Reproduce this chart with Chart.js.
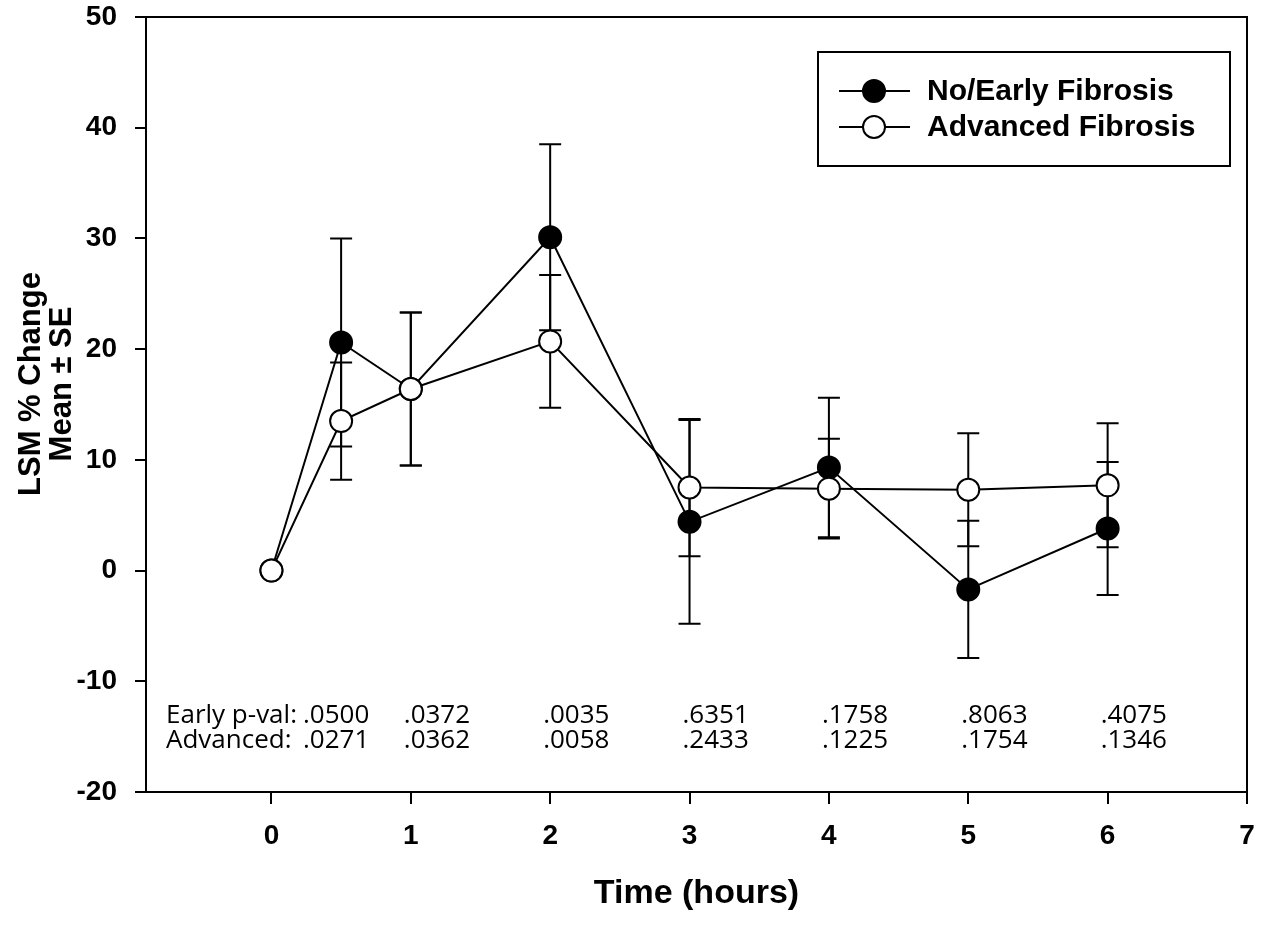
<!DOCTYPE html>
<html>
<head>
<meta charset="utf-8">
<script src="https://cdn.jsdelivr.net/npm/chart.js@4.4.0/dist/chart.umd.min.js"></script>
<style>
  html, body { margin: 0; padding: 0; background: #fff; }
  #wrap { width: 1265px; height: 926px; }
</style>
</head>
<body>
<div id="wrap"><canvas id="lsmChart" width="1265" height="926"></canvas></div>
<script>
// Time points (hours)
const times = [0, 0.5, 1, 2, 3, 4, 5, 6];

// No/Early fibrosis: mean and SE
const earlyMean = [0, 20.6, 16.4, 30.1, 4.4, 9.3, -1.7, 3.8];
const earlySE = [null, 9.4, 6.9, 8.4, 9.2, 6.3, 6.2, 6.0];

// Advanced fibrosis: mean and SE
const advMean = [0, 13.5, 16.4, 20.7, 7.5, 7.4, 7.3, 7.7];
const advSE = [null, 5.3, 6.9, 6.0, 6.2, 4.5, 5.1, 5.6];

// p-values printed inside the plot
const pTimes = [0.5, 1, 2, 3, 4, 5, 6];
const earlyP = ['.0500', '.0372', '.0035', '.6351', '.1758', '.8063', '.4075'];
const advP = ['.0271', '.0362', '.0058', '.2433', '.1225', '.1754', '.1346'];
const pLabels = ['Early p-val:', 'Advanced:'];

// Axis ticks
const xTicks = [0, 1, 2, 3, 4, 5, 6, 7];
const yTicks = [-20, -10, 0, 10, 20, 30, 40, 50];

const boldFont = 'Liberation Sans, Arial, sans-serif';

function toPoints(means) {
    return times.map(function (t, i) { return { x: t, y: means[i] }; });
}

// error bars, drawn behind the lines and markers
const errorBars = {
    id: 'errorBars',
    beforeDatasetsDraw: function (chart) {
        const ctx = chart.ctx;
        const xs = chart.scales.x, ys = chart.scales.y;
        const sets = [[earlyMean, earlySE], [advMean, advSE]];
        ctx.save();
        ctx.strokeStyle = '#000';
        ctx.lineWidth = 2;
        sets.forEach(function (s) {
            times.forEach(function (t, i) {
                if (s[1][i] == null) return;
                const px = xs.getPixelForValue(t);
                const top = ys.getPixelForValue(s[0][i] + s[1][i]);
                const bot = ys.getPixelForValue(s[0][i] - s[1][i]);
                ctx.beginPath();
                ctx.moveTo(px, top); ctx.lineTo(px, bot);
                ctx.moveTo(px - 11, top); ctx.lineTo(px + 11, top);
                ctx.moveTo(px - 11, bot); ctx.lineTo(px + 11, bot);
                ctx.stroke();
            });
        });
        ctx.restore();
    }
};

// frame, p-value text, legend and y title
const extras = {
    id: 'extras',
    afterDraw: function (chart) {
        const ctx = chart.ctx;
        const a = chart.chartArea;
        const xs = chart.scales.x;
        ctx.save();

        // full frame
        ctx.strokeStyle = '#000';
        ctx.lineWidth = 2;
        ctx.strokeRect(a.left, a.top, a.right - a.left, a.bottom - a.top);

        // p-values
        ctx.fillStyle = '#000';
        ctx.font = '26px "Open Sans", sans-serif';
        ctx.textAlign = 'left';
        ctx.textBaseline = 'alphabetic';
        const labelX = a.left + 20;
        const rowY = [a.bottom - 69, a.bottom - 44];
        const labelW = Math.max.apply(null, pLabels.map(function (l) { return ctx.measureText(l).width; }));
        [earlyP, advP].forEach(function (row, r) {
            ctx.fillText(pLabels[r], labelX, rowY[r]);
            row.forEach(function (txt, i) {
                let px = xs.getPixelForValue(pTimes[i]) - 7;
                if (i === 0) px = labelX + labelW + 6;
                ctx.fillText(txt, px, rowY[r]);
            });
        });

        // legend
        const box = { left: a.right - 429, top: a.top + 35, w: 412, h: 114 };
        ctx.lineWidth = 2;
        ctx.strokeRect(box.left, box.top, box.w, box.h);
        chart.data.datasets.forEach(function (ds, i) {
            const cy = box.top + 39 + i * 36;
            const cx = box.left + 56;
            ctx.beginPath();
            ctx.moveTo(box.left + 21, cy);
            ctx.lineTo(box.left + 92, cy);
            ctx.strokeStyle = '#000';
            ctx.stroke();
            ctx.beginPath();
            ctx.arc(cx, cy, 11, 0, Math.PI * 2);
            ctx.fillStyle = ds.pointBackgroundColor;
            ctx.fill();
            ctx.stroke();
            ctx.fillStyle = '#000';
            ctx.font = 'bold 30px ' + boldFont;
            ctx.textBaseline = 'middle';
            ctx.fillText(ds.label, box.left + 109, cy + 1);
        });

        // y axis title
        ctx.font = 'bold 31px ' + boldFont;
        ctx.textAlign = 'center';
        ctx.textBaseline = 'middle';
        ctx.translate(31, 384);
        ctx.rotate(-Math.PI / 2);
        ctx.fillText('LSM % Change', 0, 0);
        ctx.fillText('Mean \u00b1 SE', 0, 31);
        ctx.restore();
    }
};

new Chart(document.getElementById('lsmChart'), {
    type: 'line',
    data: {
        datasets: [
            {
                label: 'No/Early Fibrosis',
                data: toPoints(earlyMean),
                borderColor: '#000',
                borderWidth: 2,
                pointRadius: 11,
                pointBorderWidth: 2,
                pointBackgroundColor: '#000',
                pointBorderColor: '#000',
                tension: 0,
                order: 1
            },
            {
                label: 'Advanced Fibrosis',
                data: toPoints(advMean),
                borderColor: '#000',
                borderWidth: 2,
                pointRadius: 11,
                pointBorderWidth: 2,
                pointBackgroundColor: '#fff',
                pointBorderColor: '#000',
                tension: 0,
                order: 0
            }
        ]
    },
    options: {
        responsive: false,
        animation: false,
        clip: false,
        layout: { autoPadding: false, padding: { top: 17, right: 18, left: 0, bottom: 0 } },
        plugins: {
            legend: { display: false },
            tooltip: { enabled: false }
        },
        scales: {
            x: {
                type: 'linear',
                min: -0.9,
                max: 7,
                afterBuildTicks: function (s) { s.ticks = xTicks.map(function (v) { return { value: v }; }); },
                afterFit: function (s) {
                    s.height = 134;
                    s.paddingLeft = 0;
                    s.paddingRight = 0;
                },
                ticks: { color: '#000', font: { family: boldFont, size: 28, weight: 'bold' }, padding: 15 },
                grid: { drawOnChartArea: false, color: '#000', lineWidth: 2, tickLength: 12 },
                border: { color: '#000', width: 2 },
                title: {
                    display: true,
                    text: 'Time (hours)',
                    color: '#000',
                    font: { family: boldFont, size: 34, weight: 'bold' },
                    padding: { top: 0, bottom: 12 }
                }
            },
            y: {
                min: -20,
                max: 50,
                afterBuildTicks: function (s) { s.ticks = yTicks.map(function (v) { return { value: v }; }); },
                afterFit: function (s) {
                    s.width = 146;
                    s.paddingTop = 0;
                    s.paddingBottom = 0;
                },
                ticks: { color: '#000', font: { family: boldFont, size: 28, weight: 'bold' }, padding: 18 },
                grid: { drawOnChartArea: false, color: '#000', lineWidth: 2, tickLength: 11 },
                border: { color: '#000', width: 2 }
            }
        }
    },
    plugins: [errorBars, extras]
});
</script>
</body>
</html>
